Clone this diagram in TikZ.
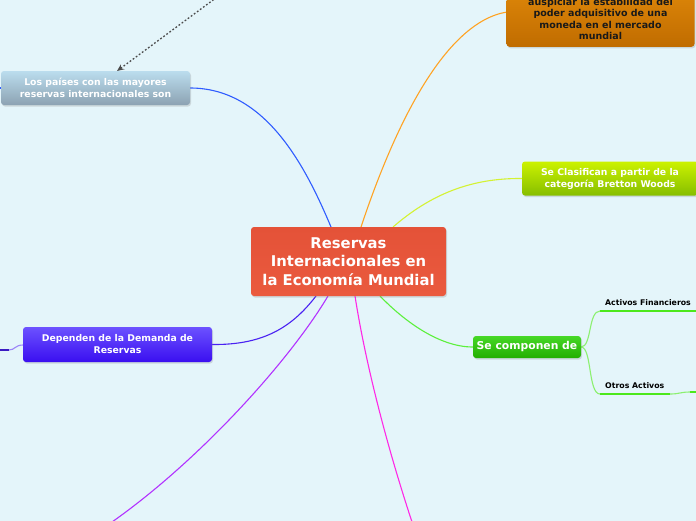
\documentclass[tikz,border=0pt]{standalone}
\usepackage{fontspec}
\setmainfont{DejaVu Sans}
\usetikzlibrary{shadows,arrows.meta,backgrounds}
\definecolor{bg}{HTML}{E4F5FA}
\definecolor{cBlue}{HTML}{2F5CFF}
\definecolor{cOrange}{HTML}{FFA323}
\definecolor{cYel}{HTML}{D4F232}
\definecolor{cGreen}{HTML}{5CF03C}
\definecolor{cPurple}{HTML}{4A22F2}
\definecolor{cViolet}{HTML}{B232FF}
\definecolor{cMag}{HTML}{FF28E6}
\definecolor{redT}{HTML}{E45238}
\definecolor{redB}{HTML}{EA5A3E}
\definecolor{bluT}{HTML}{BBDDEE}
\definecolor{bluB}{HTML}{8CA2B2}
\definecolor{oraT}{HTML}{F39A10}
\definecolor{oraB}{HTML}{C06C00}
\definecolor{yelT}{HTML}{CCF200}
\definecolor{yelB}{HTML}{86BE00}
\definecolor{grnT}{HTML}{46D826}
\definecolor{grnB}{HTML}{22AE00}
\definecolor{purT}{HTML}{6C52FF}
\definecolor{purB}{HTML}{3A0EF0}
\definecolor{lineG}{HTML}{8CF070}
\definecolor{ulG}{HTML}{4CE81C}
\tikzset{
  topic/.style={rounded corners=3pt, inner sep=2pt, align=center, font=\bfseries,
     drop shadow={opacity=0.25, shadow xshift=1pt, shadow yshift=-1.5pt}},
  conn/.style={line width=1.1pt},
  uline/.style={line width=2.6pt, color=ulG},
  smalltxt/.style={font=\bfseries\fontsize{7.8}{9}\selectfont, anchor=base west, inner sep=0pt},
}
\begin{document}
\begin{tikzpicture}[x=1pt,y=-1pt]
\useasboundingbox (0,0) rectangle (696,520);

% nodes
\node[topic, minimum width=195pt, minimum height=69pt, top color=redT, bottom color=redB,
  font=\bfseries\fontsize{14.8}{18.5}\selectfont, text=white] (central) at (348.5,261.5)
  {Reservas\\Internacionales en\\la Economía Mundial};

\node[topic, minimum width=189pt, minimum height=34pt, top color=bluT, bottom color=bluB,
  font=\bfseries\fontsize{9.3}{12}\selectfont, text=white] (paises) at (95.5,88)
  {Los países con las mayores\\reservas internacionales son};

\node[topic, minimum width=188pt, minimum height=100pt, top color=oraT, bottom color=oraB,
  anchor=south, inner sep=0pt] (orange) at (600.5,47) {};
\node[font=\bfseries\fontsize{9.5}{11.5}\selectfont, align=center, text=black!90, anchor=south]
  (orangetext) at (600.5,43.5)
  {auspiciar la estabilidad del\\poder adquisitivo de una\\moneda en el mercado\\mundial};

\node[topic, minimum width=176pt, minimum height=34pt, top color=yelT, bottom color=yelB,
  font=\bfseries\fontsize{9.3}{12}\selectfont, text=white] (clasif) at (610,178.5)
  {Se Clasifican a partir de la\\categoría Bretton Woods};

\node[topic, minimum width=108pt, minimum height=22pt, top color=grnT, bottom color=grnB,
  font=\bfseries\fontsize{10.8}{13}\selectfont, text=white] (comp) at (527,347)
  {Se componen de};

\node[topic, minimum width=189pt, minimum height=35pt, top color=purT, bottom color=purB,
  font=\bfseries\fontsize{9.3}{12}\selectfont, text=white] (depend) at (117.5,344.5)
  {Dependen de la Demanda de\\Reservas};

\node[smalltxt] (actfin) at (605,305) {Activos Financieros};
\node[smalltxt] (otros) at (605,388.5) {Otros Activos};

\coordinate (cBl) at (331,227);
\coordinate (cOr) at (361,227);
\coordinate (cYe) at (393,227);
\coordinate (cGr) at (380,296);
\coordinate (cPu) at (316,296);
\coordinate (cVi) at (328,296);
\coordinate (cMa) at (355,296);
\coordinate (viEnd) at (112,522);
\coordinate (maEnd) at (412,522);
\coordinate (dotStart) at (232,-14);
\coordinate (dotEnd) at (117,71);
\coordinate (orIn) at (507,12);
\coordinate (afL) at (600,311); \coordinate (afR) at (700,311);
\coordinate (oaL) at (600,394); \coordinate (oaR) at (670,394);
\coordinate (nxL) at (690,392); \coordinate (nxR) at (700,392);
\coordinate (compR) at (581,347);
\coordinate (pL) at (-2,88);
\coordinate (dL) at (23,345); \coordinate (dE) at (9,350); \coordinate (dE2) at (-1,350);

\begin{scope}[on background layer]
\fill[bg] (-5,-5) rectangle (701,525);
\draw[conn, cBlue] (paises.east) .. controls (265,88) and (305,165) .. (cBl);
\draw[conn, cBlue] (paises.west) -- (pL);
\draw[conn, cOrange] (cOr) .. controls (395,125) and (445,22) .. (orIn);
\draw[conn, cYel] (cYe) .. controls (430,195) and (470,178) .. (clasif.west);
\draw[conn, cGreen] (cGr) .. controls (405,322) and (440,347) .. (comp.west);
\draw[conn, cPurple] (cPu) .. controls (290,330) and (260,345) .. (depend.east);
\draw[conn, cPurple!55!white] (dL) .. controls (15,345) and (15,350) .. (dE);
\draw[line width=2.2pt, cPurple!80!black] (dE) -- (dE2);
\draw[conn, cViolet] (cVi) .. controls (290,360) and (200,460) .. (viEnd);
\draw[conn, cMag] (cMa) .. controls (365,360) and (385,440) .. (maEnd);
\draw[conn, lineG] (compR) .. controls (592,347) and (588,311) .. (afL);
\draw[conn, lineG] (compR) .. controls (592,347) and (588,394) .. (oaL);
\draw[uline] (afL) -- (afR);
\draw[uline] (oaL) -- (oaR);
\draw[conn, lineG] (oaR) .. controls (680,394) and (680,392) .. (nxL);
\draw[uline] (nxL) -- (nxR);
\end{scope}
\draw[line width=1.3pt, black!70, dash pattern=on 1.8pt off 2pt, -{Stealth[length=7pt,width=6pt]}] (dotStart) -- (dotEnd);
\end{tikzpicture}
\end{document}
